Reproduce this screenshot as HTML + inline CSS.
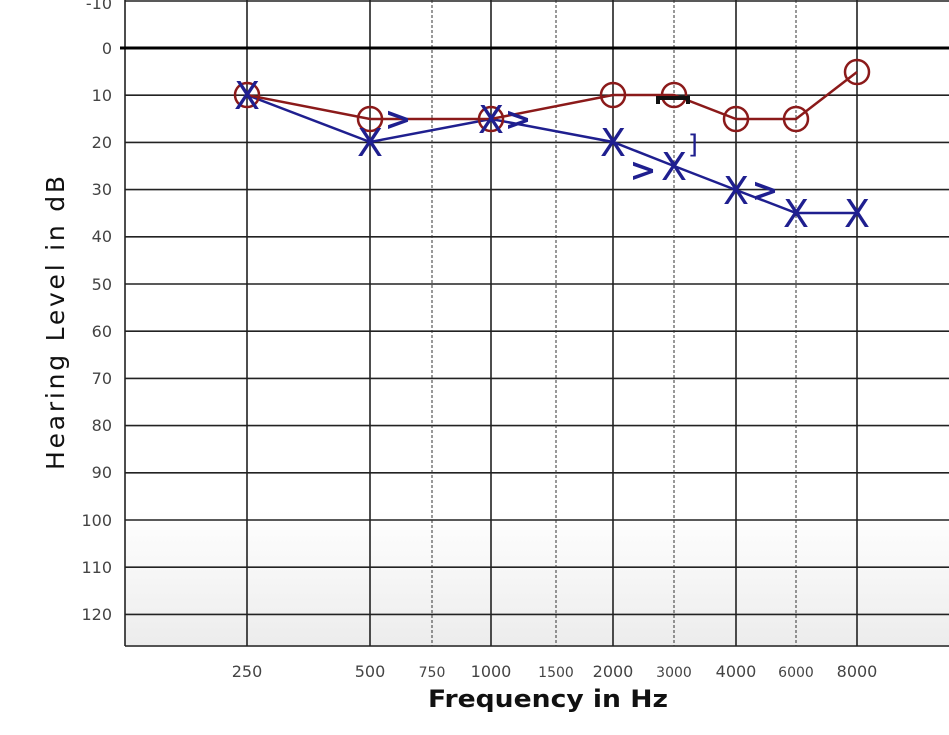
<!DOCTYPE html>
<html><head><meta charset="utf-8"><style>body{margin:0;background:#fff}svg{display:block}</style></head><body>
<svg width="949" height="735" xmlns="http://www.w3.org/2000/svg" font-family="'DejaVu Sans','Liberation Sans',sans-serif">
<defs><linearGradient id="g" x1="0" y1="0" x2="0" y2="1"><stop offset="0" stop-color="#fff"/><stop offset="1" stop-color="#ececec"/></linearGradient></defs>
<rect x="125" y="510" width="824" height="137" fill="url(#g)"/>
<g stroke="#222" stroke-width="1.6">
<line x1="125" y1="1" x2="949" y2="1"/>
<line x1="125" y1="95.2" x2="949" y2="95.2"/><line x1="125" y1="142.4" x2="949" y2="142.4"/>
<line x1="125" y1="189.6" x2="949" y2="189.6"/><line x1="125" y1="236.8" x2="949" y2="236.8"/>
<line x1="125" y1="284" x2="949" y2="284"/><line x1="125" y1="331.2" x2="949" y2="331.2"/>
<line x1="125" y1="378.4" x2="949" y2="378.4"/><line x1="125" y1="425.6" x2="949" y2="425.6"/>
<line x1="125" y1="472.8" x2="949" y2="472.8"/><line x1="125" y1="520" x2="949" y2="520"/>
<line x1="125" y1="567.2" x2="949" y2="567.2"/><line x1="125" y1="614.4" x2="949" y2="614.4"/>
<line x1="125" y1="646" x2="949" y2="646"/>
<line x1="125" y1="0" x2="125" y2="646"/>
<line x1="247" y1="0" x2="247" y2="646"/><line x1="370" y1="0" x2="370" y2="646"/>
<line x1="491" y1="0" x2="491" y2="646"/><line x1="613" y1="0" x2="613" y2="646"/>
<line x1="736" y1="0" x2="736" y2="646"/><line x1="857" y1="0" x2="857" y2="646"/>
</g>
<g stroke="#333" stroke-width="1" stroke-dasharray="3,2">
<line x1="432" y1="0" x2="432" y2="646"/><line x1="556" y1="0" x2="556" y2="646"/>
<line x1="674" y1="0" x2="674" y2="646"/><line x1="796" y1="0" x2="796" y2="646"/>
</g>
<line x1="120" y1="48" x2="949" y2="48" stroke="#000" stroke-width="3"/>
<g font-size="16" fill="#444" text-anchor="end">
<text x="112" y="9">-10</text><text x="112" y="54">0</text><text x="112" y="101">10</text><text x="112" y="148">20</text>
<text x="112" y="195">30</text><text x="112" y="242">40</text><text x="112" y="290">50</text><text x="112" y="337">60</text>
<text x="112" y="384">70</text><text x="112" y="431">80</text><text x="112" y="478">90</text><text x="112" y="526">100</text>
<text x="112" y="573">110</text><text x="112" y="620">120</text>
</g>
<g font-size="16" fill="#444" text-anchor="middle">
<text x="247" y="677">250</text><text x="370" y="677">500</text><text x="432" y="677" font-size="14">750</text>
<text x="491" y="677">1000</text><text x="556" y="677" font-size="14">1500</text><text x="613" y="677">2000</text>
<text x="674" y="677" font-size="14">3000</text><text x="736" y="677">4000</text><text x="796" y="677" font-size="14">6000</text><text x="857" y="677">8000</text>
</g>
<text x="548" y="707" font-size="24" font-weight="bold" fill="#111" text-anchor="middle" textLength="240" lengthAdjust="spacingAndGlyphs">Frequency in Hz</text>
<text transform="translate(64,323) rotate(-90)" font-size="25" fill="#111" text-anchor="middle" textLength="294" lengthAdjust="spacing">Hearing Level in dB</text>
<polyline points="247,95 370,142 491,119 613,142 674,166 736,190 796,213 857,213" fill="none" stroke="#1f1f8f" stroke-width="2.5"/>
<polyline points="247,95 370,119 491,119 613,95 674,95 736,119 796,119 857,72" fill="none" stroke="#8b1a1a" stroke-width="2.5"/>
<g fill="none" stroke="#8b1a1a" stroke-width="2.5">
<circle cx="247" cy="95" r="12"/><circle cx="370" cy="119" r="12"/><circle cx="491" cy="119" r="12"/>
<circle cx="613" cy="95" r="12"/><circle cx="674" cy="95" r="12"/><circle cx="736" cy="119" r="12"/>
<circle cx="796" cy="119" r="12"/><circle cx="857" cy="72" r="12"/>
</g>
<path d="M658,104 v-6 h30 v6" fill="none" stroke="#111" stroke-width="4"/>
<g font-size="38" fill="#1f1f8f" text-anchor="middle">
<text x="247" y="109">X</text><text x="370" y="156">X</text><text x="491" y="133">X</text>
<text x="613" y="156">X</text><text x="674" y="180">X</text><text x="736" y="204">X</text>
<text x="796" y="227">X</text><text x="857" y="227">X</text>
</g>
<g font-size="32" font-weight="bold" fill="#1f1f8f" text-anchor="middle">
<text x="398" y="130">&gt;</text><text x="518" y="130">&gt;</text><text x="643" y="181">&gt;</text><text x="765" y="201">&gt;</text>
</g>
<text x="693" y="153" font-size="26" fill="#1f1f8f" text-anchor="middle">]</text>
</svg>
</body></html>
